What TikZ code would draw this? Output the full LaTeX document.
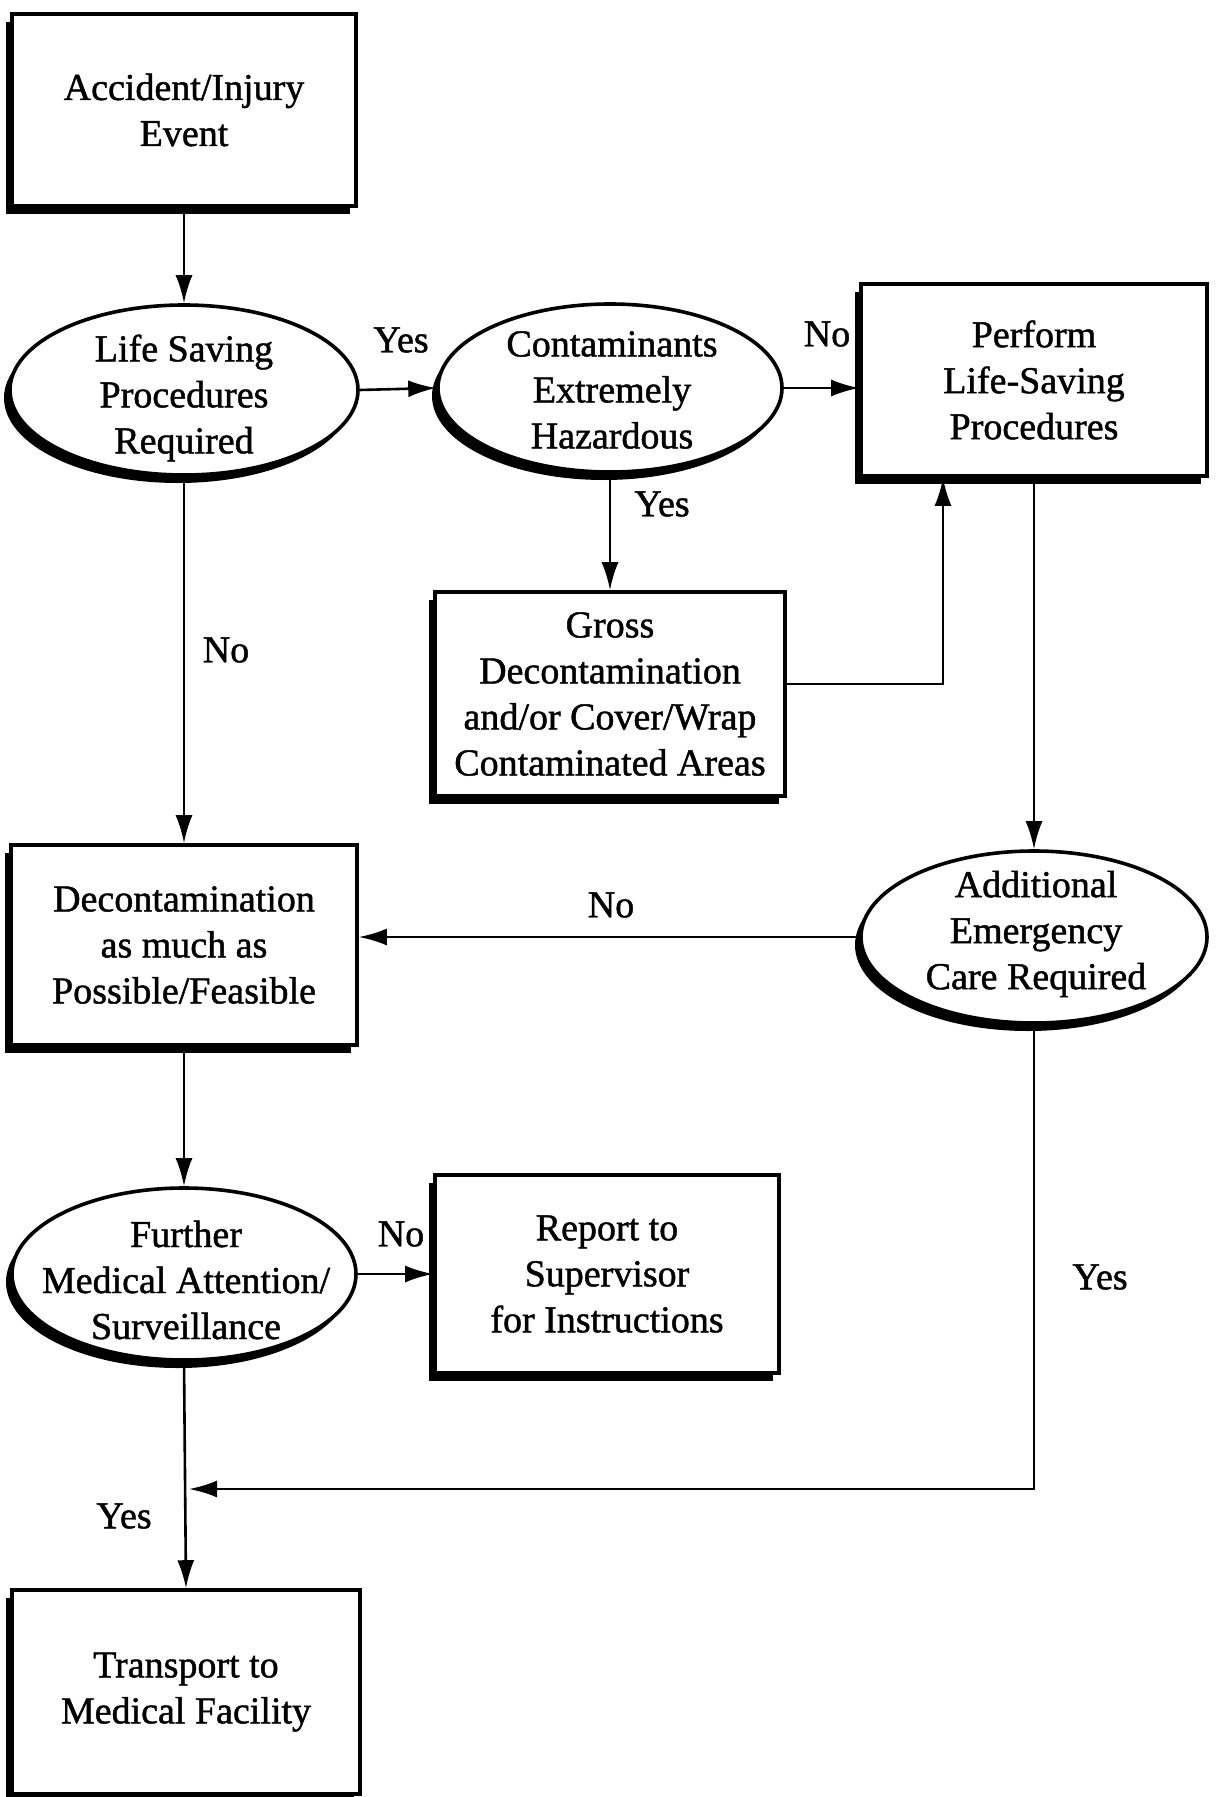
\documentclass[tikz,border=0pt]{standalone}
\usepackage{fontspec}
\setmainfont{Liberation Serif}
\newfontfamily\heavy{Liberation Serif}[FakeBold=1.2]
\usetikzlibrary{shapes.geometric,shadows,arrows.meta}
\begin{document}
\begin{tikzpicture}[x=0.5pt,y=-0.5pt,
  shad/.style={drop shadow={shadow xshift=-3pt,shadow yshift=-4pt,fill=black,opacity=1}},
  box/.style={draw,line width=1.8pt,fill=white,shad,inner sep=0pt,align=center,font=\heavy\fontsize{19}{23}\selectfont},
  ell/.style={ellipse,draw,line width=1.8pt,fill=white,shad,inner sep=0pt},
  txt/.style={align=center,inner sep=0pt,font=\heavy\fontsize{19}{23}\selectfont},
  lbl/.style={inner sep=0pt,font=\heavy\fontsize{19}{23}\selectfont},
  arr/.style={-{Latex[length=14pt,width=8.5pt]},line width=1.3pt}]
\fill[white] (0,0) rectangle (1219,1797);
\useasboundingbox (0,0) rectangle (1219,1797);

% nodes
\node[box,minimum width=172pt,minimum height=96pt] (A) at (184,110) {Accident/Injury\\Event};
\node[ell,minimum width=174pt,minimum height=85pt] (L) at (184,390) {};
\node[txt] (Lt) at (184,398) {Life Saving\\Procedures\\Required};
\node[ell,minimum width=172pt,minimum height=84pt] (C) at (610,388) {};
\node[txt] (Ct) at (612,390) {Contaminants\\Extremely\\Hazardous};
\node[box,minimum width=173pt,minimum height=96pt] (P) at (1034,380) {Perform\\Life-Saving\\Procedures};
\node[box,minimum width=175pt,minimum height=102pt] (G) at (610,694) {Gross\\Decontamination\\and/or Cover/Wrap\\Contaminated Areas};
\node[ell,minimum width=173pt,minimum height=86pt] (E) at (1034,937) {};
\node[txt] (Et) at (1036,934) {Additional\\Emergency\\Care Required};
\node[box,minimum width=173pt,minimum height=100pt] (D) at (184,945) {Decontamination\\as much as\\Possible/Feasible};
\node[ell,minimum width=172pt,minimum height=86pt] (F) at (184,1274) {};
\node[txt] (Ft) at (186,1280) {Further\\Medical Attention/\\Surveillance};
\node[box,minimum width=172pt,minimum height=99pt] (R) at (607,1274) {Report to\\Supervisor\\for Instructions};
\node[box,minimum width=174pt,minimum height=102pt] (T) at (186,1692) {Transport to\\Medical Facility};

\coordinate (gj) at (943,684);
\coordinate (yj) at (189,1489);

% connectors
\draw[arr] (A.south) -- (L.north);
\draw[arr] (L.east) -- (C.west);
\draw[arr] (C.east) -- (C.east -| P.west);
\draw[arr] (C.south) -- (G.north);
\draw[arr] (gj -| G.east) -- (gj) -- (gj |- P.south);
\draw[arr] (P.south) -- (E.north);
\draw[arr] (E.west) -- (E.west -| D.east);
\draw[arr] (L.south) -- (D.north);
\draw[arr] (D.south) -- (F.north);
\draw[arr] (F.east) -- (R.west);
\draw[arr] (F.south) -- (T.north);
\draw[arr] (E.south) |- (yj);

% labels
\node[lbl] (l1) at (401,340) {Yes};
\node[lbl] (l2) at (827,334) {No};
\node[lbl] (l3) at (662,504) {Yes};
\node[lbl] (l4) at (226,650) {No};
\node[lbl] (l5) at (611,905) {No};
\node[lbl] (l6) at (401,1234) {No};
\node[lbl] (l7) at (124,1516) {Yes};
\node[lbl] (l8) at (1100,1277) {Yes};
\end{tikzpicture}
\end{document}
